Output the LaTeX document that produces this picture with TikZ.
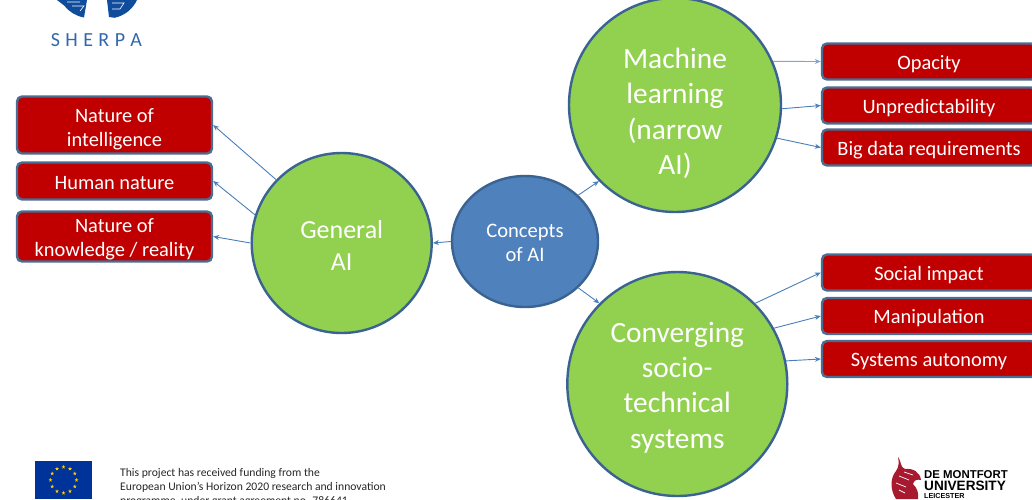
\documentclass[tikz,border=0pt]{standalone}
\usepackage{fontspec}
\setmainfont{Carlito}
\newfontfamily\heavyfont{Liberation Sans}
\usetikzlibrary{arrows.meta,shapes.geometric}
\definecolor{greenfill}{HTML}{92D050}
\definecolor{edgeblue}{HTML}{3A6391}
\definecolor{bluefill}{HTML}{4F81BD}
\definecolor{redfill}{HTML}{C00000}
\definecolor{boxedge}{HTML}{4A6D94}
\definecolor{linkblue}{HTML}{4A7EBB}
\definecolor{sherpablue}{HTML}{0F4C9C}
\definecolor{eublue}{HTML}{003399}
\definecolor{eugold}{HTML}{FFCC00}
\definecolor{dmured}{HTML}{A6192E}
\newcommand\lowered[2]{\raisebox{-#1}[\height][\depth]{\begin{tabular}{@{}c@{}}#2\end{tabular}}}
\tikzset{
  x=1pt,y=-1pt,
  oval/.style={ellipse,draw=edgeblue,line width=2.4pt,text=white,align=center,inner sep=0pt},
  bigcircle/.style={oval,fill=greenfill,font=\fontsize{29.4}{35.3}\selectfont},
  midcircle/.style={oval,fill=greenfill,font=\fontsize{26}{32.5}\selectfont},
  bluecircle/.style={oval,fill=bluefill,font=\fontsize{20.6}{24}\selectfont},
  redbox/.style={rectangle,rounded corners=5pt,draw=boxedge,line width=2.4pt,fill=redfill,text=white,align=center,inner sep=0pt,font=\fontsize{20.4}{24}\selectfont},
  link/.style={draw=linkblue,line width=0.9pt,-{Stealth[length=6pt,width=5pt]}},
}
\begin{document}
\begin{tikzpicture}
\useasboundingbox (0,0) rectangle (1032,499);
\clip (0,0) rectangle (1032,499);
% SHERPA logo
\fill[sherpablue] (57,0) -- (87,0) -- (84,17.5) arc[start angle=100,end angle=142,radius=32] -- cycle;
\fill[sherpablue] (107,0) -- (137,0) arc[start angle=25,end angle=78,radius=32] -- (109,17) -- cycle;
\draw[white,line width=0.6pt] (67,2) -- (80,2) (72,6) -- (84,6) -- (80,11) (112,3) -- (124,3) -- (120,9) -- (112,9);
\node[text=sherpablue!85!white,font=\fontsize{20}{20}\selectfont] (sherpa) at (96.5,40) {S\kern5.4pt H\kern5.4pt E\kern5.4pt R\kern5.4pt P\kern5.4pt A};
% circles
\node[midcircle,minimum width=180pt,minimum height=180pt] (gen) at (341.7,243) {\lowered{5pt}{General\\AI}};
\node[bluecircle,minimum width=146pt,minimum height=131pt] (con) at (525,241.5) {\lowered{3pt}{Concepts\\of AI}};
\node[bigcircle,minimum width=212pt,minimum height=214pt] (ml) at (675,105) {\lowered{9.5pt}{Machine\\learning\\(narrow\\AI)}};
\node[bigcircle,minimum width=220pt,minimum height=224pt] (soc) at (677.3,384) {\lowered{4pt}{Converging\\socio-\\technical\\systems}};
% boxes
\node[redbox,minimum width=195pt,minimum height=57pt] (b1) at (114.5,125) {\lowered{5pt}{Nature of\\intelligence}};
\node[redbox,minimum width=195pt,minimum height=37pt] (b2) at (114.5,181) {\lowered{4pt}{Human nature}};
\node[redbox,minimum width=195pt,minimum height=50pt] (b3) at (114.5,236.5) {\lowered{3pt}{Nature of\\knowledge / reality}};
\node[redbox,minimum width=214pt,minimum height=36pt] (r1) at (929,61.5) {\lowered{3pt}{Opacity}};
\node[redbox,minimum width=214pt,minimum height=36pt] (r2) at (929,105.5) {\lowered{3pt}{Unpredictability}};
\node[redbox,minimum width=214pt,minimum height=36pt] (r3) at (929,147.5) {\lowered{3pt}{Big data requirements}};
\node[redbox,minimum width=214pt,minimum height=36pt] (s1) at (929,272.5) {\lowered{3pt}{Social impact}};
\node[redbox,minimum width=214pt,minimum height=36pt] (s2) at (929,316) {\lowered{3pt}{Manipulation}};
\node[redbox,minimum width=214pt,minimum height=36pt] (s3) at (929,359) {\lowered{3pt}{Systems autonomy}};
% connectors
\draw[link] (gen.136.4) -- (b1.east);
\draw[link] (gen.162.3) -- (b2.east);
\draw[link] (gen.180) -- (b3.east);
\draw[link] (con.180) -- (gen.0);
\draw[link] (con.41.8) -- (ml.225.4);
\draw[link] (con.-41.8) -- (soc.134);
\draw[link,draw=linkblue!70!white] (ml.24.6) -- (r1.west);
\draw[link] (ml.-2) -- (r2.west);
\draw[link] (ml.-18) -- (r3.west);
\draw[link] (soc.46.2) -- (s1.west);
\draw[link] (soc.30.3) -- (s2.west);
\draw[link] (soc.12) -- (s3.west);
% EU flag
\fill[eublue] (35,461) rectangle (92,499);
\foreach \a in {0,30,...,330}
  \node[star,star points=5,star point ratio=2.4,fill=eugold,inner sep=0pt,minimum size=4pt] (st\a) at ({63.5+13*cos(\a)},{480+13*sin(\a)}) {};
% funding text
\node[anchor=north west,align=left,inner sep=0pt,font=\fontsize{11.65}{13.9}\selectfont,text=black!85] (fund) at (120,468.5) {This project has received funding from the\\European Union’s Horizon 2020 research and innovation\\programme, under grant agreement no. 786641};
% DMU logo
\fill[dmured] (898,457) .. controls (902,463) and (900,467) .. (905,469) .. controls (913,468) and (920,472) .. (921,480) .. controls (917,479) and (914,480) .. (913,484) .. controls (917,488) and (919,493) .. (918,499) -- (896,499) .. controls (890,490) and (890,478) .. (896,471) .. controls (899,467) and (899,462) .. (898,457) -- cycle;
\draw[white,line width=0.7pt] (899,476) -- (909,480) (896,483) -- (906,487) (904,472) -- (913,475) (899,490) -- (905,493);
\node[anchor=west,inner sep=0pt,font=\heavyfont\bfseries\fontsize{11.4}{11.4}\selectfont] (dm1) at (924,475) {DE MONTFORT};
\node[anchor=west,inner sep=0pt,font=\heavyfont\bfseries\fontsize{13.6}{12}\selectfont] (dm2) at (924,486) {UNIVERSITY};
\node[anchor=west,inner sep=0pt,font=\heavyfont\bfseries\fontsize{7.2}{8}\selectfont] (dm3) at (924,496) {LEICESTER};
\end{tikzpicture}
\end{document}
